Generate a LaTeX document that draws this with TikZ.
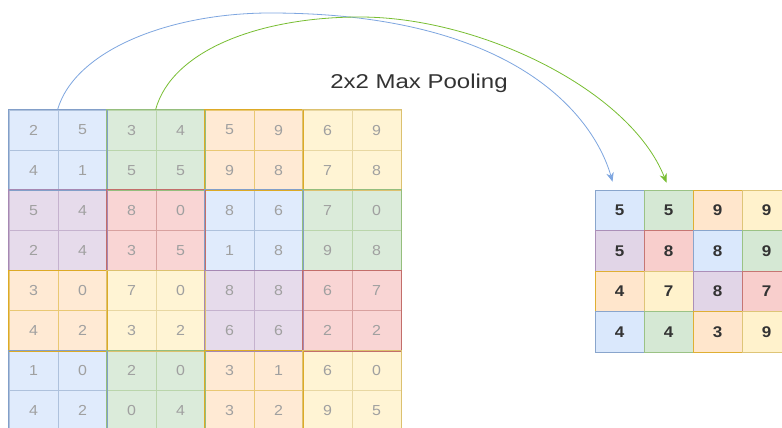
\documentclass[tikz,border=0pt]{standalone}
\usepackage{fontspec}
\setmainfont{Liberation Sans}
\usetikzlibrary{calc,arrows.meta}
\definecolor{cFb}{HTML}{DAE8FC}\definecolor{cSb}{HTML}{6C8EBF}
\definecolor{cFg}{HTML}{D5E8D4}\definecolor{cSg}{HTML}{82B366}
\definecolor{cFo}{HTML}{FFE6CC}\definecolor{cSo}{HTML}{D79B00}
\definecolor{cFy}{HTML}{FFF2CC}\definecolor{cSy}{HTML}{D6B656}
\definecolor{cFr}{HTML}{F8CECC}\definecolor{cSr}{HTML}{B85450}
\definecolor{cFp}{HTML}{E1D5E7}\definecolor{cSp}{HTML}{9673A6}
\definecolor{arcB}{HTML}{7EA6E0}
\definecolor{arcG}{RGB}{120,190,50}
\definecolor{numL}{HTML}{A0A0A0}
\definecolor{numR}{HTML}{333333}
\tikzset{
  lcell/.style={minimum width=49pt, minimum height=40.1pt, inner sep=0pt,
    draw=cS#1!55!white, fill=cF#1!85!white, line width=0.8pt,
    text=numL, font=\fontsize{14.5}{16}\selectfont},
  rcell/.style={minimum width=49pt, minimum height=40.5pt, inner sep=0pt,
    draw=cS#1!80!white, fill=cF#1, line width=0.8pt,
    text=numR, font=\fontsize{15.5}{17}\selectfont\bfseries},
  blockline/.style={draw=cS#1!85!white, line width=0.9pt},
  arcarrow/.style={draw=#1, line width=0.8pt, -{Stealth[length=9pt,width=7.5pt]}},
  title/.style={text=numR, font=\fontsize{20}{24}\selectfont, inner sep=0pt}
}
\begin{document}
\begin{tikzpicture}[x=1pt,y=-1pt]
\clip (0,0) rectangle (782,428);
\fill[white] (0,0) rectangle (782,428);
% left grid
\foreach \r/\vals in {0/{2,5,3,4,5,9,6,9},1/{4,1,5,5,9,8,7,8},2/{5,4,8,0,8,6,7,0},3/{2,4,3,5,1,8,9,8},
                     4/{3,0,7,0,8,8,6,7},5/{4,2,3,2,6,6,2,2},6/{1,0,2,0,3,1,6,0},7/{4,2,0,4,3,2,9,5}}{
  \foreach \v [count=\c from 0] in \vals {
    \pgfmathtruncatemacro{\idx}{int(\r/2)*4+int(\c/2)}
    \pgfmathparse{{"b","g","o","y","p","r","b","g","o","y","p","r","b","g","o","y"}[\idx]}
    \edef\blk{\pgfmathresult}
    \node[lcell=\blk] (L-\r-\c) at ({9+49*\c+24.5},{110+40.1*\r+20.05}) {\scalebox{1.1}[1]{\v}};
  }
}
% block outlines
\foreach \br in {0,...,3}{
  \foreach \bc in {0,...,3}{
    \pgfmathtruncatemacro{\idx}{\br*4+\bc}
    \pgfmathparse{{"b","g","o","y","p","r","b","g","o","y","p","r","b","g","o","y"}[\idx]}
    \edef\blk{\pgfmathresult}
    \pgfmathtruncatemacro{\ra}{2*\br}\pgfmathtruncatemacro{\rb}{2*\br+1}
    \pgfmathtruncatemacro{\ca}{2*\bc}\pgfmathtruncatemacro{\cb}{2*\bc+1}
    \draw[blockline=\blk] (L-\ra-\ca.north west) rectangle (L-\rb-\cb.south east);
  }
}
% right grid
\foreach \r/\vals in {0/{5,5,9,9},1/{5,8,8,9},2/{4,7,8,7},3/{4,4,3,9}}{
  \foreach \v [count=\c from 0] in \vals {
    \pgfmathtruncatemacro{\idx}{\r*4+\c}
    \pgfmathparse{{"b","g","o","y","p","r","b","g","o","y","p","r","b","g","o","y"}[\idx]}
    \edef\blk{\pgfmathresult}
    \node[rcell=\blk] (R-\r-\c) at ({595+49*\c+24.5},{190+40.5*\r+20.25}) {\scalebox{1.1}[1]{\v}};
  }
}
% title
\node[title] (T) at (419,83) {\scalebox{1.2}[1]{2x2 Max Pooling}};
% arcs
\coordinate (bpeak) at (270,13);
\coordinate (gpeak) at (360,17);
\coordinate (bend) at ($(R-0-0.north)+(-7,-8)$);
\coordinate (gend) at ($(R-0-1.north)+(-2,-7)$);
\draw[arcarrow=arcB] (L-0-1.north west) .. controls (75,50) and (170,13) .. (bpeak)
   .. controls (520,13) and (595,120) .. (bend);
\draw[arcarrow=arcG] (L-0-3.north west) .. controls (172,50) and (260,17) .. (gpeak)
   .. controls (480,17) and (630,90) .. (gend);
\end{tikzpicture}
\end{document}
